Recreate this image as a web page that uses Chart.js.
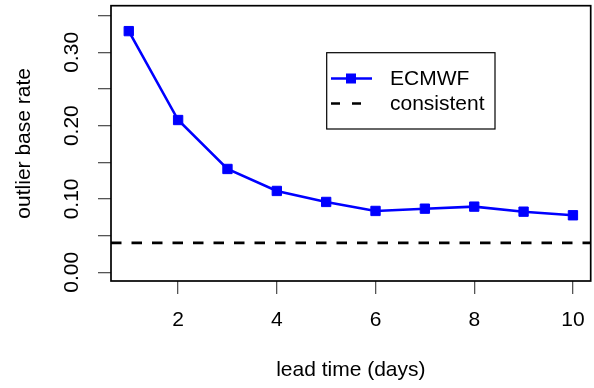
<!DOCTYPE html>
<html>
<head>
<meta charset="utf-8">
<script src="https://cdn.jsdelivr.net/npm/chart.js@4.4.1/dist/chart.umd.min.js"></script>
<style>
  html, body { margin: 0; padding: 0; background: #ffffff; }
  #wrap { width: 594px; height: 388px; }
</style>
</head>
<body>
<div id="wrap"><canvas id="plot" width="594" height="388"></canvas></div>
<script>
// data
var leadDays = [1, 2, 3, 4, 5, 6, 7, 8, 9, 10];
var ecmwfRates = [0.329, 0.2077, 0.1409, 0.1109, 0.0959, 0.0836, 0.0867, 0.0895, 0.0826, 0.0777];
var consistentRate = 0.040;

var xTickValues = [2, 4, 6, 8, 10];
var yTickValues = [0, 0.05, 0.10, 0.15, 0.20, 0.25, 0.30, 0.35];
var yLabelValues = [0, 0.10, 0.20, 0.30];

var xMin = 0.64, xMax = 10.36;
var yMin = -0.012, yMax = 0.3637;

var FONT = '"Liberation Sans", Arial, Helvetica, sans-serif';
var BLUE = '#0000ff';

// R style box, rotated y labels and an in-plot legend
var rStyle = {
  id: 'rStyle',
  afterDraw: function(chart) {
    var ctx = chart.ctx;
    var a = chart.chartArea;
    var ys = chart.scales.y;

    ctx.save();
    ctx.strokeStyle = '#000';
    ctx.lineWidth = 1.7;
    ctx.strokeRect(a.left, a.top, a.right - a.left, a.bottom - a.top);

    // vertical tick labels
    ctx.fillStyle = '#000';
    ctx.font = '21px ' + FONT;
    ctx.textAlign = 'center';
    ctx.textBaseline = 'middle';
    yLabelValues.forEach(function(v) {
      var py = ys.getPixelForValue(v);
      ctx.save();
      ctx.translate(72.5, py);
      ctx.rotate(-Math.PI / 2);
      ctx.fillText(v.toFixed(2), 0, 0);
      ctx.restore();
    });

    // legend
    var ds = chart.data.datasets;
    ctx.lineWidth = 1.2;
    ctx.strokeStyle = '#000';
    ctx.strokeRect(326.7, 52.7, 168.3, 76.3);

    ctx.strokeStyle = ds[0].borderColor;
    ctx.lineWidth = ds[0].borderWidth;
    ctx.beginPath();
    ctx.moveTo(331, 78.5);
    ctx.lineTo(372, 78.5);
    ctx.stroke();
    ctx.fillStyle = ds[0].pointBackgroundColor;
    ctx.fillRect(346, 73.5, 10, 10);

    ctx.strokeStyle = ds[1].borderColor;
    ctx.lineWidth = ds[1].borderWidth;
    ctx.setLineDash([9, 12]);
    ctx.beginPath();
    ctx.moveTo(331, 103.5);
    ctx.lineTo(372, 103.5);
    ctx.stroke();
    ctx.setLineDash([]);

    ctx.fillStyle = '#000';
    ctx.textAlign = 'left';
    ctx.font = '21px ' + FONT;
    ctx.fillText(ds[0].label, 390, 79);
    ctx.fillText(ds[1].label, 390, 104.5);
    ctx.restore();
  }
};

new Chart(document.getElementById('plot').getContext('2d'), {
  type: 'line',
  data: {
    datasets: [
      {
        label: 'ECMWF',
        data: leadDays.map(function(d, i) { return { x: d, y: ecmwfRates[i] }; }),
        borderColor: BLUE,
        borderWidth: 2.6,
        pointStyle: 'rect',
        pointRadius: 6.6,
        pointBorderWidth: 1,
        pointBackgroundColor: BLUE,
        pointBorderColor: BLUE,
        tension: 0
      },
      {
        label: 'consistent',
        data: [{ x: xMin, y: consistentRate }, { x: xMax, y: consistentRate }],
        borderColor: '#000',
        borderWidth: 2.7,
        borderDash: [10.5, 10],
        pointRadius: 0,
        tension: 0
      }
    ]
  },
  options: {
    responsive: false,
    animation: false,
    layout: { padding: { top: 5.7, right: 3.3, left: 0, bottom: 0 }, autoPadding: false },
    plugins: {
      legend: { display: false },
      tooltip: { enabled: false }
    },
    scales: {
      x: {
        type: 'linear',
        min: xMin,
        max: xMax,
        afterBuildTicks: function(s) { s.ticks = xTickValues.map(function(v) { return { value: v }; }); },
        afterFit: function(s) { s.height = 107; s.paddingLeft = 0; s.paddingRight = 0; },
        grid: { drawOnChartArea: false, drawTicks: true, tickLength: 13, color: '#555', lineWidth: 1.3 },
        border: { display: false },
        ticks: {
          autoSkip: false, maxRotation: 0, padding: 14, color: '#000',
          font: { family: FONT, size: 21, lineHeight: 1.2 },
          callback: function(v) { return String(v); }
        },
        title: {
          display: true, text: 'lead time (days)', color: '#000',
          font: { family: FONT, size: 21, lineHeight: 1.2 },
          padding: { top: 0, bottom: 5.4 }
        }
      },
      y: {
        type: 'linear',
        min: yMin,
        max: yMax,
        afterBuildTicks: function(s) { s.ticks = yTickValues.map(function(v) { return { value: v }; }); },
        afterFit: function(s) { s.width = 111; s.paddingTop = 0; s.paddingBottom = 0; },
        grid: { drawOnChartArea: false, drawTicks: true, tickLength: 13, color: '#555', lineWidth: 1.3 },
        border: { display: false },
        ticks: { padding: 0, callback: function() { return ''; } },
        title: {
          display: true, text: 'outlier base rate', color: '#000',
          font: { family: FONT, size: 21, lineHeight: 1.2 },
          padding: { top: 11.4, bottom: 0 }
        }
      }
    }
  },
  plugins: [rStyle]
});
</script>
</body>
</html>
